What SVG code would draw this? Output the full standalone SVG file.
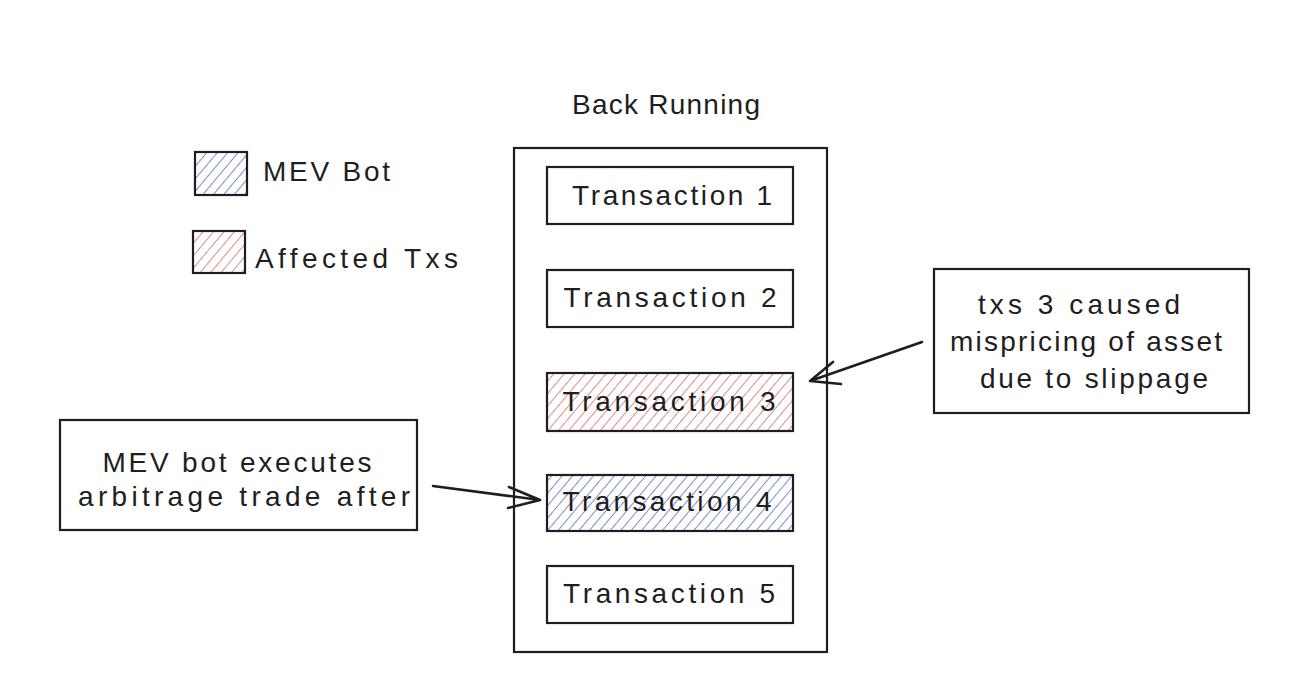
<svg xmlns="http://www.w3.org/2000/svg" width="1294" height="700" viewBox="0 0 1294 700">
<defs>
<pattern id="hatchRed" patternUnits="userSpaceOnUse" width="8" height="8" patternTransform="rotate(40)">
<line x1="0" y1="0" x2="0" y2="8" stroke="#d77a7a" stroke-width="1.7"/>
</pattern>
<pattern id="hatchBlue" patternUnits="userSpaceOnUse" width="8" height="8" patternTransform="rotate(40)">
<line x1="0" y1="0" x2="0" y2="8" stroke="#6577c6" stroke-width="1.7"/>
</pattern>
</defs>
<style>
.box{fill:none;stroke:#1e1e1e;stroke-width:2.2}
.txt{font-family:"Liberation Sans","Noto Sans",sans-serif;font-size:28px;fill:#1e1e1e}
.mid{text-anchor:middle}
.conn{fill:none;stroke:#1e1e1e;stroke-width:2.6;stroke-linecap:round;stroke-linejoin:round}
</style>
<rect width="1294" height="700" fill="#ffffff"/>

<g id="title">
<text class="txt mid" x="666" y="114" textLength="188">Back Running</text>
</g>

<g id="legend-mev">
<rect x="195" y="152" width="52" height="43" fill="url(#hatchBlue)"/>
<rect class="box" x="195" y="152" width="52" height="43"/>
<text class="txt" x="263" y="181" textLength="127">MEV Bot</text>
</g>
<g id="legend-affected">
<rect x="193" y="231" width="52" height="42" fill="url(#hatchRed)"/>
<rect class="box" x="193" y="231" width="52" height="42"/>
<text class="txt" x="255" y="268" textLength="203">Affected Txs</text>
</g>

<g id="block">
<rect class="box" x="514" y="148" width="313" height="504"/>
</g>

<g id="tx1">
<rect class="box" x="547" y="167" width="246" height="57"/>
<text class="txt mid" x="672" y="205" textLength="200">Transaction 1</text>
</g>
<g id="tx2">
<rect class="box" x="547" y="270" width="246" height="57"/>
<text class="txt mid" x="670" y="307" textLength="213">Transaction 2</text>
</g>
<g id="tx3">
<rect x="547" y="373" width="246" height="58" fill="url(#hatchRed)"/>
<rect class="box" x="547" y="373" width="246" height="58"/>
<text class="txt mid" x="669" y="411" textLength="213">Transaction 3</text>
</g>
<g id="tx4">
<rect x="547" y="475" width="246" height="56" fill="url(#hatchBlue)"/>
<rect class="box" x="547" y="475" width="246" height="56"/>
<text class="txt mid" x="667" y="511" textLength="209">Transaction 4</text>
</g>
<g id="tx5">
<rect class="box" x="547" y="566" width="246" height="57"/>
<text class="txt mid" x="669" y="603" textLength="212">Transaction 5</text>
</g>

<g id="note-right">
<rect class="box" x="934" y="269" width="315" height="144"/>
<text class="txt mid" x="1079" y="314" textLength="202">txs 3 caused</text>
<text class="txt mid" x="1086" y="351" textLength="272">mispricing of asset</text>
<text class="txt mid" x="1094" y="388" textLength="228">due to slippage</text>
</g>

<g id="note-left">
<rect class="box" x="60" y="420" width="357" height="110"/>
<text class="txt mid" x="237" y="472" textLength="269">MEV bot executes</text>
<text class="txt mid" x="244" y="506" textLength="332">arbitrage trade after</text>
</g>

<g id="connectors">
<path class="conn" d="M922 342 L810 381 M833 362 L810 381 L841 384"/>
<path class="conn" d="M433 486 L540 500 M509 487 L540 500 L508 508"/>
</g>
</svg>
